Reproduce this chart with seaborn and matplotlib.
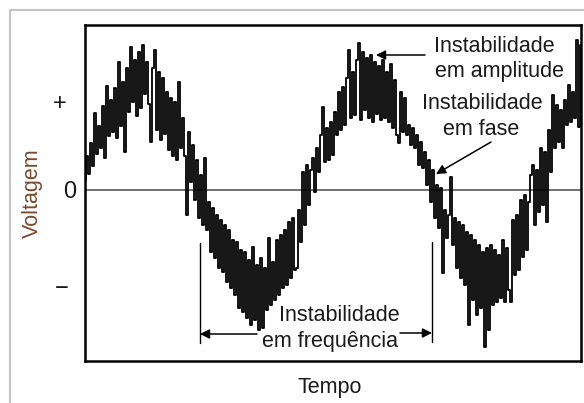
import numpy as np
import pandas as pd
import matplotlib
matplotlib.use("Agg")
import matplotlib.pyplot as plt
from matplotlib.lines import Line2D
import seaborn as sns

# Noisy AC voltage trace, one sample every 2 time units
voltage = [
    10, 34, 16, 47, 24, 77, 36, 64, 42, 84,
    32, 104, 54, 90, 58, 102, 52, 128, 64, 108,
    38, 122, 78, 143, 88, 130, 74, 138, 82, 145,
    96, 128, 86, 48, 122, 140, 60, 118, 50, 112,
    56, 98, 40, 92, 34, 88, 30, 108, 42, 72,
    34, -25, 58, 8, 45, -10, 30, -28, 15, -35,
    32, -40, -12, -62, -18, -68, -25, -78, -30, -82,
    -35, -92, -40, -98, -50, -105, -52, -118, -60, -122,
    -62, -128, -70, -135, -57, -130, -75, -140, -68, -138,
    -78, -120, -48, -115, -72, -110, -50, -105, -45, -98,
    -40, -95, -32, -88, -28, -80, -78, -20, -52, 18,
    -35, 25, -15, 20, 32, -2, 42, 18, 55, 83,
    28, 62, 30, 68, 35, 78, 55, 98, 60, 103,
    65, 112, 140, 72, 118, 75, 130, 147, 70, 138,
    80, 132, 72, 135, 68, 128, 76, 124, 70, 130,
    72, 118, 68, 126, 62, 110, 55, 47, 98, 58,
    92, 55, 65, 45, 62, 42, 55, 25, 48, 22,
    38, 5, 30, -12, 20, -28, 5, -38, 2, -83,
    -20, -48, -25, 13, -55, -28, -78, -32, -88, -35,
    -95, -42, -135, -45, -110, -50, -125, -55, -118, -62,
    -157, -58, -140, -55, -115, -60, -112, -65, -108, -50,
    -112, -58, -100, -112, -30, -85, -25, -80, -10, -67,
    -5, -60, -12, 15, 25, -35, 20, -22, 42, -15,
    38, -32, 60, 18, 95, 42, 85, 48, 80, 42,
    90, 65, 105, 68, 98, 72, 150, 63, 145,
]
sample_step = 2
time = np.arange(len(voltage)) * sample_step

tick_values = [88, 0, -97]
tick_labels = ["+", "0", "\u2212"]

df = pd.DataFrame({"Tempo": time, "Voltagem": voltage})

sns.set_theme(style="white")
plt.rcParams["font.family"] = ["Liberation Sans", "DejaVu Sans"]

fig = plt.figure(figsize=(5.84, 4.03), dpi=100)
ax = fig.add_axes([85 / 584, 1 - 361 / 403, 496 / 584, 336 / 403])

ax.axhline(0, color="#4a4a4a", lw=1.1, zorder=1)
sns.lineplot(data=df, x="Tempo", y="Voltagem", estimator=None, sort=False,
             color="black", lw=1.3, drawstyle="steps-mid", ax=ax, zorder=2)

ax.set_xlim(0, 496)
ax.set_ylim(-171, 165)
ax.set_xticks([])
ax.set_yticks([])
ax.set_xlabel("")
ax.set_ylabel("")
for s in ax.spines.values():
    s.set_visible(True)
    s.set_color("black")
    s.set_linewidth(1.8)

txt = "#1a1a1a"
fs = 15.5

# voltage level labels to the left of the frame
label_x = [-0.0504, -0.0302, -0.0464]
trans = matplotlib.transforms.blended_transform_factory(ax.transAxes, ax.transData)
for lx, v, lab in zip(label_x, tick_values, tick_labels):
    ax.text(lx, v, lab, transform=trans, ha="center", va="center_baseline",
            fontsize=17, color=txt)

fig.text(32 / 584, 1 - 193.5 / 403, "Voltagem", rotation=90, ha="center",
         va="center", fontsize=fs, color="#7a4a2a")
fig.text(330 / 584, 1 - 393 / 403, "Tempo", ha="center", va="baseline",
         fontsize=fs, color=txt)

arrow = dict(arrowstyle="-|>", color="black", lw=1.1, mutation_scale=14,
             shrinkA=0, shrinkB=0)

# amplitude instability
ax.text(349, 138, "Instabilidade", ha="left", va="baseline", fontsize=fs, color=txt)
ax.text(350, 113, "em amplitude", ha="left", va="baseline", fontsize=fs, color=txt)
ax.annotate("", xy=(291, 135), xytext=(340, 135), arrowprops=arrow)

# phase instability
ax.text(397, 81, "Instabilidade", ha="center", va="baseline", fontsize=fs, color=txt)
ax.text(396, 55, "em fase", ha="center", va="baseline", fontsize=fs, color=txt)
ax.annotate("", xy=(351, 16), xytext=(406, 48), arrowprops=arrow)

# frequency instability
ax.text(315, -131, "Instabilidade", ha="right", va="baseline", fontsize=fs, color=txt)
ax.text(313, -157, "em frequência", ha="right", va="baseline", fontsize=fs, color=txt)
ax.plot([115, 115], [-53, -153], color="black", lw=1.0)
ax.plot([347, 347], [-52, -152], color="black", lw=1.0)
ax.annotate("", xy=(115, -144), xytext=(172, -144), arrowprops=arrow)
ax.annotate("", xy=(347, -143), xytext=(315, -143), arrowprops=arrow)

# light page border
fig.add_artist(Line2D([10 / 584, 10 / 584], [0, 1 - 10 / 403],
                      transform=fig.transFigure, color="#c4c4c4", lw=1.5))
fig.add_artist(Line2D([10 / 584, 1], [1 - 10 / 403, 1 - 10 / 403],
                      transform=fig.transFigure, color="#c4c4c4", lw=1.5))

fig.savefig("out.png", dpi=100)
